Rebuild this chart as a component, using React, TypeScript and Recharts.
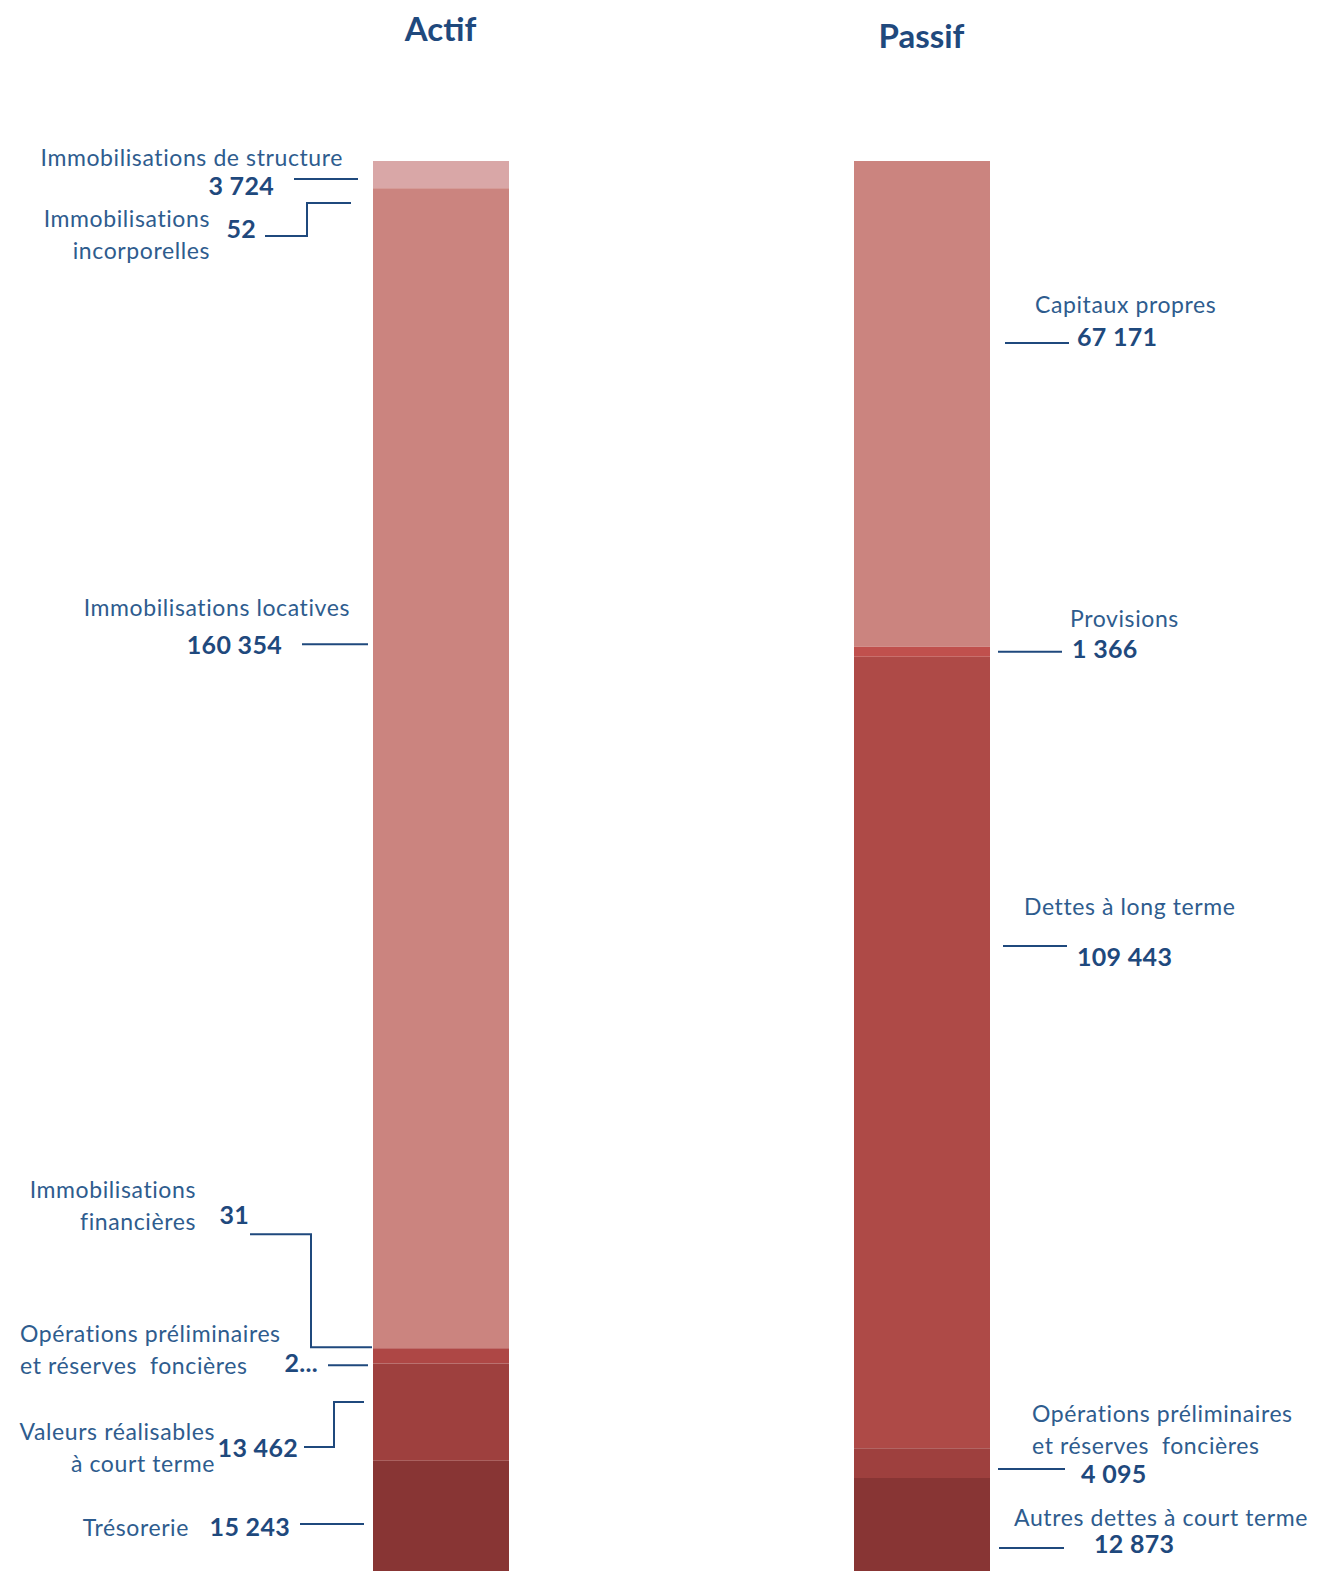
import React from 'react';
import { BarChart, Bar, XAxis, YAxis, LabelList } from 'recharts';

const categories = ['Actif', 'Passif'];

// Actif, top to bottom
const actifKeys = ['structure', 'incorporelles', 'locatives', 'financieres', 'operationsActif', 'valeurs', 'tresorerie'];
const actifNames = [
  ['Immobilisations de structure'],
  ['Immobilisations', 'incorporelles'],
  ['Immobilisations locatives'],
  ['Immobilisations', 'financières'],
  ['Opérations préliminaires', 'et réserves  foncières'],
  ['Valeurs réalisables', 'à court terme'],
  ['Trésorerie'],
];
const actifValues = [3724, 52, 160354, 31, 2082, 13462, 15243];
const actifColors = ['#D9A7A7', '#CB847F', '#CB847F', '#CB847F', '#AE4745', '#9E403E', '#883534'];

// Passif, top to bottom
const passifKeys = ['capitaux', 'provisions', 'dettesLT', 'operationsPassif', 'autresDettes'];
const passifNames = [
  ['Capitaux propres'],
  ['Provisions'],
  ['Dettes à long terme'],
  ['Opérations préliminaires', 'et réserves  foncières'],
  ['Autres dettes à court terme'],
];
const passifValues = [67171, 1366, 109443, 4095, 12873];
const passifColors = ['#CB847F', '#C0504D', '#AE4A47', '#9E403E', '#883534'];

// value shown truncated in the original
const shownAs: Record<string, string> = { operationsActif: '2...' };

const fmt = (v: number) => String(v).replace(/\B(?=(\d{3})+(?!\d))/g, ' ');

const data = categories.map((name, ci) => {
  const row: Record<string, any> = { name };
  actifKeys.forEach((k, i) => (row[k] = ci === 0 ? actifValues[i] : null));
  passifKeys.forEach((k, i) => (row[k] = ci === 1 ? passifValues[i] : null));
  return row;
});

// label placement: offsets from the bar edge (outwards) and from the segment middle
type Layout = {
  line: number[][];
  num: [number, number];
  name: [number, number, 'start' | 'end'];
};
const layout: Record<string, Layout> = {
  structure: { line: [[15, 4.5], [79, 4.5]], num: [99, 11], name: [30, -17, 'end'] },
  incorporelles: { line: [[22, 15], [66, 15], [66, 48], [108, 48]], num: [117, 40], name: [163, 30, 'end'] },
  locatives: { line: [[5, -124], [71, -124]], num: [91, -124], name: [23, -161, 'end'] },
  financieres: { line: [[1, -1], [62, -1], [62, -114], [123, -114]], num: [124, -134], name: [177, -159, 'end'] },
  operationsActif: { line: [[5, 9.4], [45, 9.4]], num: [55, 6.4], name: [353, -22.6, 'start'] },
  valeurs: { line: [[9, -10], [39, -10], [39, 35], [69, 35]], num: [75, 35], name: [158, 19, 'end'] },
  tresorerie: { line: [[9, 8], [73, 8]], num: [83, 10], name: [184, 11, 'end'] },
  capitaux: { line: [[15, -61], [79, -61]], num: [87, -68], name: [45, -100, 'start'] },
  provisions: { line: [[8, 0], [72, 0]], num: [82, -4], name: [80, -34, 'start'] },
  dettesLT: { line: [[13, -106.5], [77, -106.5]], num: [87, -96.5], name: [34, -146.5, 'start'] },
  operationsPassif: { line: [[8, 6], [75, 6]], num: [91, 10], name: [42, -50, 'start'] },
  autresDettes: { line: [[9, 23.5], [74, 23.5]], num: [104, 18.5], name: [24, -7.5, 'start'] },
};

const FONT = 'Lato, "Open Sans", sans-serif';
const NAME_COLOR = '#2E5C8E';
const NUM_COLOR = '#1F497D';

const makeLabel = (key: string, names: string[], side: 'left' | 'right') => (props: any) => {
  const { value } = props;
  if (value === null || value === undefined) return null;
  const vb = props.viewBox || props;
  const top = Math.min(vb.y, vb.y + vb.height);
  const cy = top + Math.abs(vb.height) / 2;
  const edge = side === 'left' ? vb.x : vb.x + vb.width;
  const sx = (d: number) => (side === 'left' ? edge - d : edge + d);
  const l = layout[key];
  const pts = l.line.map(([dx, dy]) => `${sx(dx)},${cy + dy}`).join(' ');
  const numAnchor = side === 'left' ? 'end' : 'start';
  return (
    <g>
      <polyline points={pts} fill="none" stroke={NUM_COLOR} strokeWidth={2} />
      <text
        x={sx(l.num[0])}
        y={cy + l.num[1]}
        textAnchor={numAnchor}
        dominantBaseline="central"
        fontFamily={FONT}
        fontWeight="bold"
        fontSize={25}
        letterSpacing={0.3}
        fill={NUM_COLOR}
      >
        {shownAs[key] ?? fmt(value)}
      </text>
      {names.map((t, i) => (
        <text
          key={i}
          x={sx(l.name[0])}
          y={cy + l.name[1] + i * 32}
          textAnchor={l.name[2]}
          dominantBaseline="central"
          fontFamily={FONT}
          fontSize={23}
          letterSpacing={0.6}
          fill={NAME_COLOR}
          style={{ whiteSpace: 'pre' }}
        >
          {t}
        </text>
      ))}
    </g>
  );
};

const titleShift = [0, 7];

const TitleTick = (props: any) => {
  const { x, y, payload, index } = props;
  return (
    <text
      x={x}
      y={y - 125 + (titleShift[index] ?? 0)}
      textAnchor="middle"
      dominantBaseline="central"
      fontFamily={FONT}
      fontWeight="bold"
      fontSize={33}
      fill={NUM_COLOR}
    >
      {payload.value}
    </text>
  );
};

export default function App() {
  return (
    <div style={{ position: 'absolute', left: 0, top: 0, width: 1318, height: 1573, background: '#fff' }}>
      <BarChart width={1318} height={1573} data={data} margin={{ top: 131, right: 156, bottom: 2, left: 200 }}>
        <XAxis
          dataKey="name"
          orientation="top"
          height={30}
          axisLine={false}
          tickLine={false}
          interval={0}
          tick={<TitleTick />}
        />
        <YAxis hide reversed domain={[0, 'dataMax']} />
        {actifKeys.map((k, i) => (
          <Bar key={k} dataKey={k} stackId="s" fill={actifColors[i]} barSize={136} isAnimationActive={false}>
            <LabelList dataKey={k} content={makeLabel(k, actifNames[i], 'left')} />
          </Bar>
        ))}
        {passifKeys.map((k, i) => (
          <Bar key={k} dataKey={k} stackId="s" fill={passifColors[i]} barSize={136} isAnimationActive={false}>
            <LabelList dataKey={k} content={makeLabel(k, passifNames[i], 'right')} />
          </Bar>
        ))}
      </BarChart>
    </div>
  );
}
